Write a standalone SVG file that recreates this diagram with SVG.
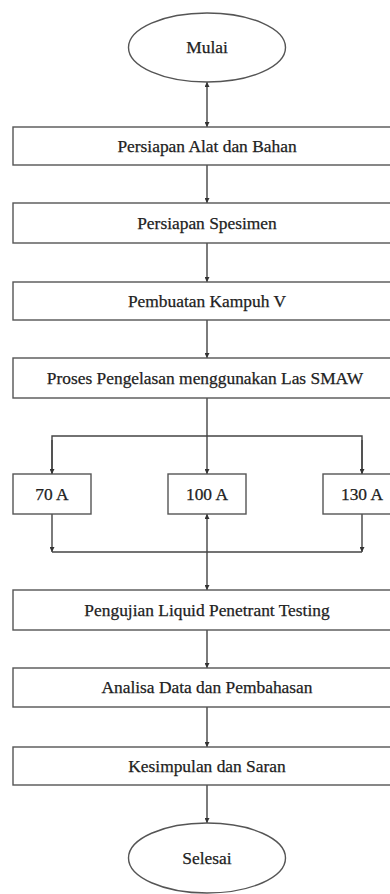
<svg xmlns="http://www.w3.org/2000/svg" width="390" height="894" viewBox="0 0 390 894">
<style>
.box{fill:#fff;stroke:#555;stroke-width:1.4}
.t{font-family:'Liberation Serif','DejaVu Serif',serif;font-size:17.4px;fill:#222;stroke:#222;stroke-width:0.25;text-anchor:middle}
.c{fill:none;stroke:#444;stroke-width:1.4}
</style>
<defs>
<marker id="ah" viewBox="0 0 10 10" refX="10" refY="5" markerWidth="5" markerHeight="5" orient="auto-start-reverse" markerUnits="userSpaceOnUse">
<path d="M0,0 L10,5 L0,10 z" fill="#333"/>
</marker>
</defs>
<rect width="390" height="894" fill="#fff"/>
<g id="connectors">
<line class="c" x1="207" y1="82" x2="207" y2="127" marker-start="url(#ah)" marker-end="url(#ah)"/>
<line class="c" x1="207" y1="165" x2="207" y2="203" marker-end="url(#ah)"/>
<line class="c" x1="207" y1="243" x2="207" y2="282" marker-end="url(#ah)"/>
<line class="c" x1="207" y1="320" x2="207" y2="358" marker-end="url(#ah)"/>
<line class="c" x1="207" y1="398" x2="207" y2="474" marker-end="url(#ah)"/>
<polyline class="c" points="52,474 52,436 362,436 362,474"/>
<line class="c" x1="52" y1="440" x2="52" y2="474" marker-end="url(#ah)"/>
<line class="c" x1="362" y1="440" x2="362" y2="474" marker-end="url(#ah)"/>
<line class="c" x1="52" y1="514" x2="52" y2="552" marker-end="url(#ah)"/>
<line class="c" x1="362" y1="514" x2="362" y2="552" marker-end="url(#ah)"/>
<line class="c" x1="52" y1="552" x2="362" y2="552"/>
<line class="c" x1="207" y1="514" x2="207" y2="590" marker-start="url(#ah)" marker-end="url(#ah)"/>
<line class="c" x1="207" y1="630" x2="207" y2="668" marker-end="url(#ah)"/>
<line class="c" x1="207" y1="707" x2="207" y2="747" marker-end="url(#ah)"/>
<line class="c" x1="207" y1="785" x2="207" y2="823" marker-end="url(#ah)"/>
</g>
<g id="mulai"><ellipse class="box" cx="207" cy="47.5" rx="78.5" ry="34.5"/><text class="t" x="207" y="53">Mulai</text></g>
<g id="alat"><rect class="box" x="13" y="127" width="390" height="38"/><text class="t" x="207" y="152">Persiapan Alat dan Bahan</text></g>
<g id="spesimen"><rect class="box" x="13" y="203" width="390" height="40"/><text class="t" x="207" y="229">Persiapan Spesimen</text></g>
<g id="kampuh"><rect class="box" x="13" y="282" width="390" height="38"/><text class="t" x="207" y="307">Pembuatan Kampuh V</text></g>
<g id="proses"><rect class="box" x="13" y="358" width="390" height="40"/><text class="t" x="205" y="384">Proses Pengelasan menggunakan Las SMAW</text></g>
<g id="a70"><rect class="box" x="13" y="474" width="78" height="40"/><text class="t" x="52" y="500">70 A</text></g>
<g id="a100"><rect class="box" x="168" y="474" width="78" height="40"/><text class="t" x="207" y="500">100 A</text></g>
<g id="a130"><rect class="box" x="323" y="474" width="78" height="40"/><text class="t" x="362" y="500">130 A</text></g>
<g id="pengujian"><rect class="box" x="13" y="590" width="390" height="40"/><text class="t" x="207" y="616">Pengujian Liquid Penetrant Testing</text></g>
<g id="analisa"><rect class="box" x="13" y="668" width="390" height="39"/><text class="t" x="207" y="693">Analisa Data dan Pembahasan</text></g>
<g id="kesimpulan"><rect class="box" x="13" y="747" width="390" height="38"/><text class="t" x="207" y="772">Kesimpulan dan Saran</text></g>
<g id="selesai"><ellipse class="box" cx="207" cy="858" rx="78.5" ry="35"/><text class="t" x="207" y="864">Selesai</text></g>
</svg>
